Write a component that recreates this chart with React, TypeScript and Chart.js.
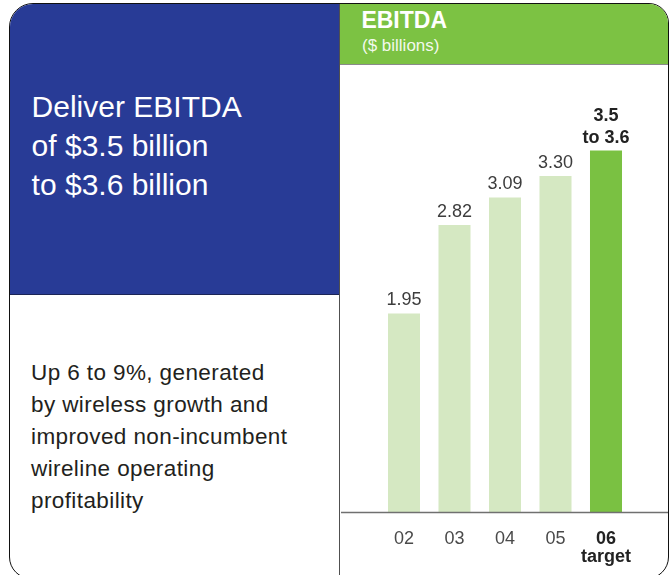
import React, { useEffect, useRef } from "react";
import { Chart, registerables } from "chart.js";

Chart.register(...registerables);

const categories: (string | string[])[] = ["02", "03", "04", "05", ["06", "target"]];
const values: number[] = [1.95, 2.82, 3.09, 3.3, 3.55];
const valueLabels: (string | string[])[] = ["1.95", "2.82", "3.09", "3.30", ["3.5", "to 3.6"]];
const targetIndex = 4;

const FONT = '"Liberation Sans", Arial, Helvetica, sans-serif';
const LIGHT = "#d5e8c2";
const GREEN = "#7ac142";
const BLUE = "#283b96";

const labelPlugin = {
  id: "valueLabels",
  afterDatasetsDraw(chart: any) {
    const ctx = chart.ctx;
    const meta = chart.getDatasetMeta(0);
    ctx.save();
    ctx.textAlign = "center";
    ctx.textBaseline = "alphabetic";
    meta.data.forEach((el: any, i: number) => {
      const lab = valueLabels[i];
      const lines = Array.isArray(lab) ? lab : [lab];
      const bold = i === targetIndex;
      ctx.font = `${bold ? "bold " : ""}18px ${FONT}`;
      ctx.fillStyle = bold ? "#222222" : "#3d3d3d";
      const n = lines.length;
      lines.forEach((t, k) => {
        ctx.fillText(t, el.x, el.y - 8 - (n - 1 - k) * 22);
      });
    });
    ctx.restore();
  },
  afterDraw(chart: any) {
    const ctx = chart.ctx;
    const y = Math.round(chart.scales.y.getPixelForValue(0)) + 0.5;
    ctx.save();
    ctx.strokeStyle = "#707070";
    ctx.lineWidth = 1.3;
    ctx.beginPath();
    ctx.moveTo(0, y);
    ctx.lineTo(chart.width, y);
    ctx.stroke();
    ctx.restore();
  },
};

function EbitdaChart() {
  const ref = useRef<HTMLCanvasElement | null>(null);
  useEffect(() => {
    if (!ref.current) return;
    const chart = new Chart(ref.current, {
      type: "bar",
      data: {
        labels: categories,
        datasets: [
          {
            data: values,
            backgroundColor: values.map((_, i) => (i === targetIndex ? GREEN : LIGHT)),
            borderWidth: 0,
            barPercentage: 0.634,
            categoryPercentage: 1,
          },
        ],
      },
      options: {
        animation: false,
        responsive: false,
        maintainAspectRatio: false,
        devicePixelRatio: 1,
        layout: { padding: { left: 37.75, right: 36.75, top: 39.8, bottom: 0 } },
        plugins: { legend: { display: false }, tooltip: { enabled: false } },
        scales: {
          y: { display: false, min: 0, max: 4 },
          x: {
            afterFit: (s: any) => {
              s.height = 63;
            },
            grid: { display: false, drawTicks: false },
            border: { display: false },
            ticks: {
              padding: 18,
              autoSkip: false,
              maxRotation: 0,
              color: (c: any) => (c.index === targetIndex ? "#222222" : "#4a4a4a"),
              font: (c: any) => ({
                family: FONT,
                size: 18,
                weight: c.index === targetIndex ? "bold" : "normal",
                lineHeight: 1,
              }),
            },
          },
        },
      },
      plugins: [labelPlugin],
    } as any);
    return () => chart.destroy();
  }, []);
  return (
    <canvas
      ref={ref}
      width={327}
      height={510}
      style={{ position: "absolute", left: 331, top: 61, width: 327, height: 510 }}
    />
  );
}

export default function App() {
  return (
    <div
      style={{
        position: "absolute",
        left: 0,
        top: 0,
        width: 670,
        height: 575,
        overflow: "hidden",
        background: "#ffffff",
        fontFamily: FONT,
      }}
    >
      <div
        style={{
          position: "absolute",
          left: 9,
          top: 3,
          width: 660,
          height: 576,
          boxSizing: "border-box",
          border: "1px solid #111111",
          borderRadius: "24px 20px 22px 22px",
          overflow: "hidden",
          background: "#ffffff",
        }}
      >
        <div style={{ position: "absolute", left: 0, top: 0, width: 329, height: 290, background: BLUE }} />
        <div style={{ position: "absolute", left: 0, top: 290, width: 329, height: 1, background: "#1b2456" }} />
        <div style={{ position: "absolute", left: 330, top: 0, width: 330, height: 60, background: "#7cc243" }} />
        <div style={{ position: "absolute", left: 330, top: 60, width: 330, height: 1, background: "#8a8a8a" }} />
        <div style={{ position: "absolute", left: 329, top: 0, width: 1, height: 580, background: "#505050" }} />
        <div
          style={{
            position: "absolute",
            left: 21.6,
            top: 82.8,
            fontSize: 30,
            lineHeight: "39px",
            color: "#ffffff",
            whiteSpace: "nowrap",
          }}
        >
          Deliver EBITDA
          <br />
          of $3.5 billion
          <br />
          to $3.6 billion
        </div>
        <div
          style={{
            position: "absolute",
            left: 21,
            top: 353.2,
            fontSize: 22.5,
            lineHeight: "32px",
            letterSpacing: "0.4px",
            color: "#231f20",
            whiteSpace: "nowrap",
          }}
        >
          Up 6 to 9%, generated
          <br />
          by wireless growth and
          <br />
          improved non-incumbent
          <br />
          wireline operating
          <br />
          profitability
        </div>
        <div
          style={{
            position: "absolute",
            left: 351.4,
            top: 4.8,
            fontSize: 23,
            fontWeight: "bold",
            lineHeight: "23px",
            color: "#ffffff",
            whiteSpace: "nowrap",
          }}
        >
          EBITDA
        </div>
        <div
          style={{
            position: "absolute",
            left: 352,
            top: 33.3,
            fontSize: 17,
            lineHeight: "17px",
            color: "rgba(255,255,255,0.92)",
            whiteSpace: "nowrap",
          }}
        >
          ($ billions)
        </div>
        <EbitdaChart />
      </div>
    </div>
  );
}
